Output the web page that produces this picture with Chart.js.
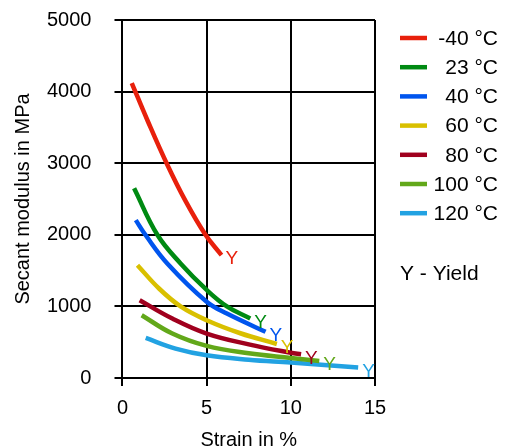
<!DOCTYPE html>
<html>
<head>
<meta charset="utf-8">
<script src="https://cdn.jsdelivr.net/npm/chart.js@4.4.1/dist/chart.umd.min.js"></script>
<style>
    body { margin: 0; background: #fff; }
    #grafico { display: block; }
</style>
</head>
<body>
<canvas id="grafico" width="505" height="448"></canvas>
<script>
"use strict"

//dati (strain in %, secant modulus in MPa)
let temperature = ["-40 °C", "23 °C", "40 °C", "60 °C", "80 °C", "100 °C", "120 °C"];
let colori = ["#e8200c", "#008a12", "#0055ee", "#d9c000", "#a0001e", "#62a81a", "#22a2e2"];

let strainM40 = [0.55, 1.48, 2.62, 3.75, 4.93, 5.88];
let modulusM40 = [4120, 3600, 3000, 2470, 2000, 1715];
let strain23 = [0.69, 2.07, 3.45, 5.0, 6.2, 7.59];
let modulus23 = [2650, 2000, 1600, 1230, 1000, 830];
let strain40 = [0.79, 1.36, 2.66, 5.0, 6.2, 8.5];
let modulus40 = [2205, 2000, 1600, 1065, 900, 645];
let strain60 = [0.89, 2.17, 3.45, 5.0, 7.0, 9.17];
let modulus60 = [1576, 1250, 1000, 807, 625, 475];
let strain80 = [1.02, 2.96, 5.0, 7.5, 10.0, 10.61];
let modulus80 = [1087, 831, 621, 470, 352, 331];
let strain100 = [1.14, 2.96, 5.0, 7.5, 10.0, 11.69];
let modulus100 = [877, 621, 448, 345, 280, 238];
let strain120 = [1.38, 3.15, 5.0, 7.5, 10.0, 14.0];
let modulus120 = [559, 411, 317, 255, 215, 145];

let xTicks = [0, 5, 10, 15];
let yTicks = [0, 1000, 2000, 3000, 4000, 5000];

let strain = [strainM40, strain23, strain40, strain60, strain80, strain100, strain120];
let modulus = [modulusM40, modulus23, modulus40, modulus60, modulus80, modulus100, modulus120];

let font = "'Liberation Sans', Arial, sans-serif";

//costruisco i dataset
let datasets = [];
for (let i = 0; i < temperature.length; i++) {
    let punti = [];
    for (let j = 0; j < strain[i].length; j++) {
        punti.push({ x: strain[i][j], y: modulus[i][j] });
    }
    datasets.push({
        label: temperature[i],
        data: punti,
        borderColor: colori[i],
        backgroundColor: colori[i],
        borderWidth: 4.5,
        pointRadius: 0,
        fill: false,
        tension: 0.4
    });
}

//plugin per le "Y" di snervamento a fine curva
const yieldPlugin = {
    id: "yieldPlugin",
    afterDatasetsDraw(chart) {
        let ctx = chart.ctx;
        ctx.save();
        ctx.font = "19px " + font;
        ctx.textAlign = "left";
        ctx.textBaseline = "middle";
        chart.data.datasets.forEach(function (ds, i) {
            let meta = chart.getDatasetMeta(i);
            let ultimo = meta.data[meta.data.length - 1];
            ctx.fillStyle = ds.borderColor;
            ctx.fillText("Y", ultimo.x + 4, ultimo.y + 4);
        });
        ctx.restore();
    }
};

//legenda disegnata a mano (testo allineato a destra)
const legendaPlugin = {
    id: "legendaPlugin",
    afterDraw(chart) {
        let ctx = chart.ctx;
        ctx.save();
        ctx.font = "21px " + font;
        ctx.textBaseline = "middle";
        chart.data.datasets.forEach(function (ds, i) {
            let y = 38 + i * 29.2;
            ctx.strokeStyle = ds.borderColor;
            ctx.lineWidth = 4.5;
            ctx.beginPath();
            ctx.moveTo(400, y);
            ctx.lineTo(427, y);
            ctx.stroke();
            ctx.fillStyle = "#000";
            ctx.textAlign = "right";
            ctx.fillText(ds.label, 498, y + 1);
        });
        ctx.textAlign = "left";
        ctx.fillText("Y - Yield", 400, 274);
        ctx.restore();
    }
};

function senzaVirgola(value) {
    return String(value);
}

const ctx = document.getElementById("grafico");

new Chart(ctx, {
    type: "line",
    data: { datasets: datasets },
    plugins: [yieldPlugin, legendaPlugin],
    options: {
        responsive: false,
        animation: false,
        devicePixelRatio: 1,
        layout: {
            padding: { left: 0, right: 130, top: 0, bottom: -4 }
        },
        plugins: {
            legend: { display: false },
            tooltip: { enabled: false }
        },
        scales: {
            x: {
                type: "linear",
                min: xTicks[0],
                max: xTicks[xTicks.length - 1],
                afterBuildTicks: function (axis) {
                    axis.ticks = xTicks.map(function (v) { return { value: v }; });
                },
                grid: { color: "#000", lineWidth: 2, tickLength: 8 },
                border: { color: "#000", width: 2 },
                ticks: {
                    color: "#000",
                    padding: 10,
                    callback: senzaVirgola,
                    font: { family: font, size: 20 }
                },
                title: {
                    display: true,
                    text: "Strain in %",
                    color: "#000",
                    padding: { top: -2, bottom: 0 },
                    font: { family: font, size: 20 }
                }
            },
            y: {
                min: yTicks[0],
                max: yTicks[yTicks.length - 1],
                afterBuildTicks: function (axis) {
                    axis.ticks = yTicks.map(function (v) { return { value: v }; });
                },
                //tolgo lo spazio doppio che chart.js mette attorno alle etichette
                afterFit: function (axis) {
                    axis.width -= 17;
                    axis.paddingTop = 20;
                },
                grid: { color: "#000", lineWidth: 2, tickLength: 8 },
                border: { color: "#000", width: 2 },
                ticks: {
                    color: "#000",
                    padding: 23,
                    callback: senzaVirgola,
                    font: { family: font, size: 20 }
                },
                title: {
                    display: true,
                    text: "Secant modulus in MPa",
                    color: "#000",
                    padding: { top: 11, bottom: 6 },
                    font: { family: font, size: 20 }
                }
            }
        }
    }
});
</script>
</body>
</html>
